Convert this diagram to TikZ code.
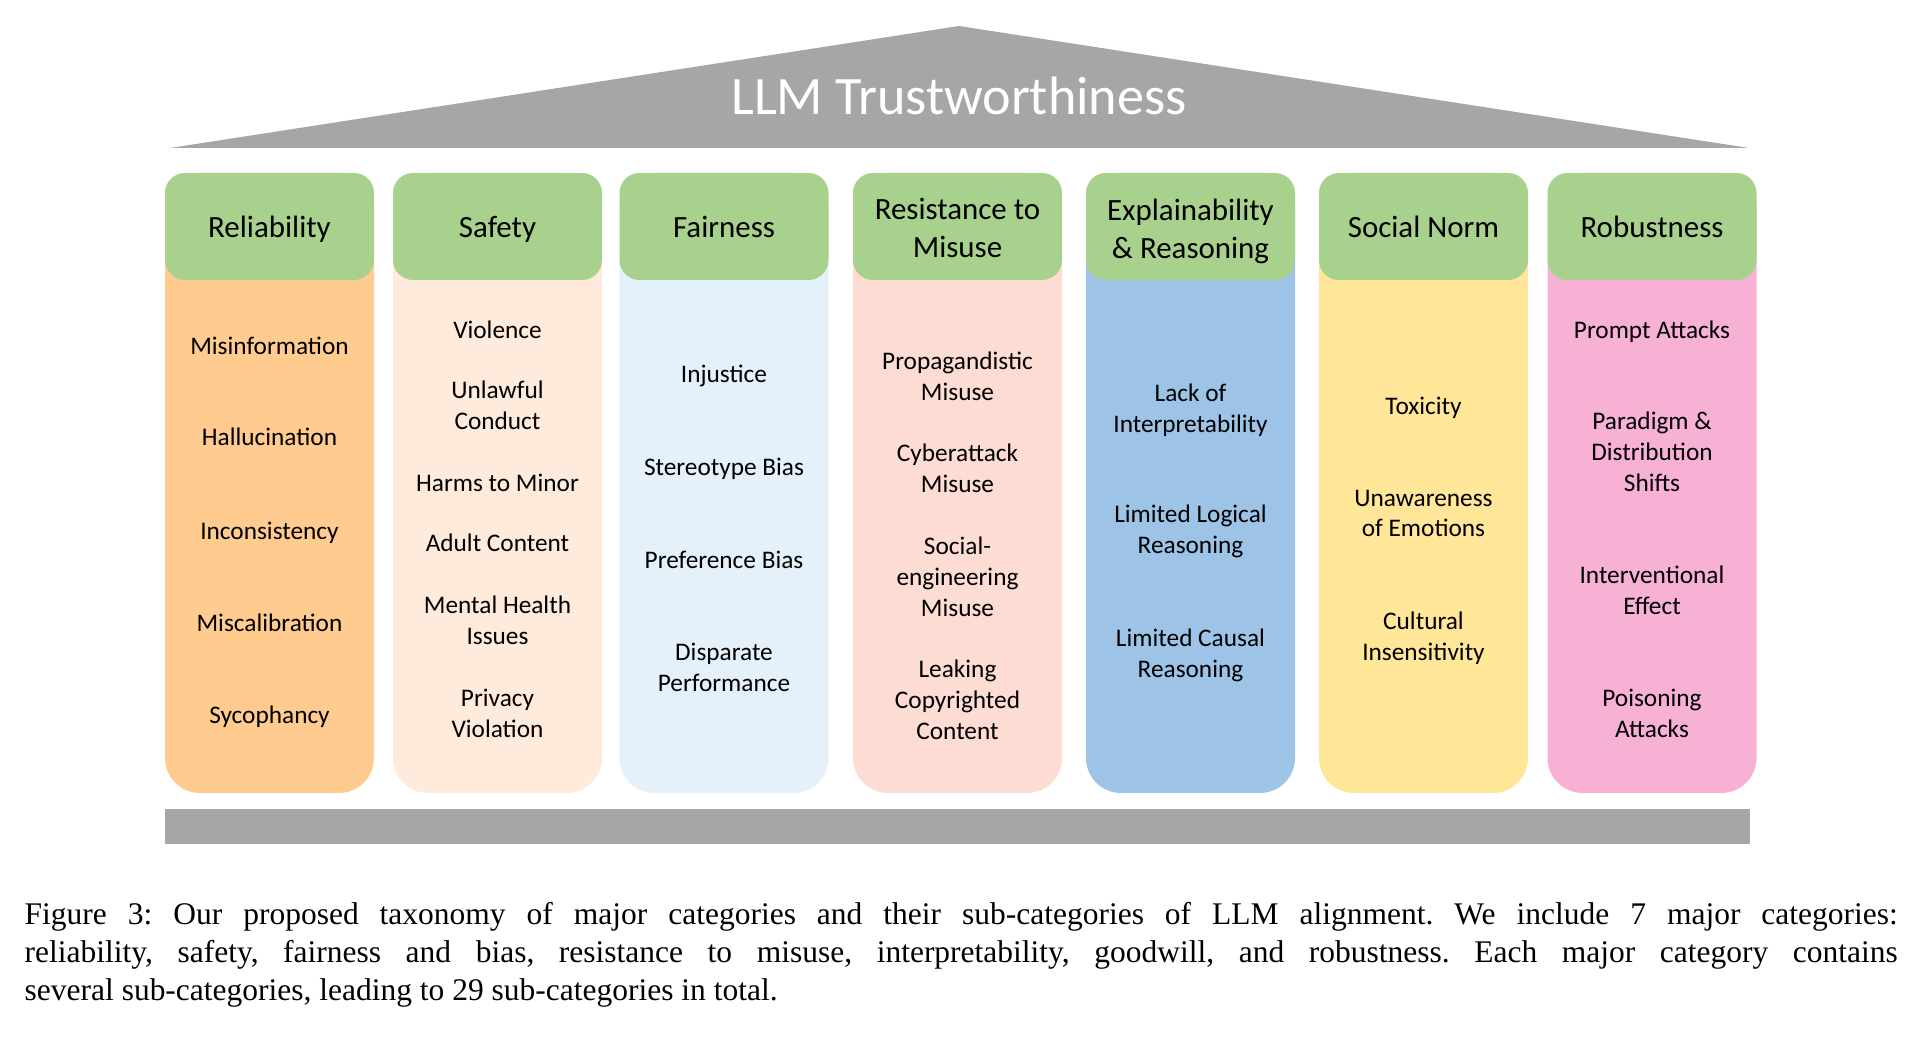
\documentclass[tikz,border=0pt]{standalone}
\usepackage{fontspec}
\setmainfont{Carlito}
\newfontfamily\legendefont{Liberation Serif}
\usepackage{xcolor}
\usepackage{tikz}
\usetikzlibrary{shapes}
\usetikzlibrary{positioning}
\definecolor{gris}{HTML}{A6A6A6}
\definecolor{vert}{HTML}{A9D18E}
\definecolor{orange}{HTML}{FFCB8E}
\definecolor{peche}{HTML}{FEEBDC}
\definecolor{ciel}{HTML}{E4F1FA}
\definecolor{rose}{HTML}{FDDCD3}
\definecolor{bleu}{HTML}{9DC3E6}
\definecolor{jaune}{HTML}{FFE699}
\definecolor{fuchsia}{HTML}{F7B1D4}
\tikzstyle{pilier}=[
        rectangle,
        rounded corners=3.5mm,
        minimum width=2.09cm,
        minimum height=6.2cm,
        inner sep=0pt
]
\tikzstyle{entete}=[
        rectangle,
        rounded corners=2mm,
        fill=vert,
        minimum width=2.09cm,
        minimum height=1.07cm,
        inner sep=0pt
]
\tikzstyle{titrecol}=[align=center,inner sep=0pt,execute at begin node=\strut,
execute at end node=\strut,font=\fontsize{8.8}{10.8}\selectfont]
\tikzstyle{critere}=[align=center,inner sep=0pt,execute at begin node=\strut,
execute at end node=\strut,font=\fontsize{7.2}{8.8}\selectfont]
\tikzstyle{toit}=[fill=gris]
\tikzstyle{socle}=[rectangle,fill=gris,minimum width=15.85cm,minimum height=0.35cm,inner sep=0pt]
\tikzstyle{legende}=[inner sep=0pt,text width=18.73cm,align=justify,
font=\legendefont\fontsize{8.96}{10.8}\selectfont\frenchspacing]

\begin{document}
\begin{tikzpicture}
\useasboundingbox (0,0) rectangle (19.30,-10.40);
\fill[toit] (1.70,-1.48) -- (9.59,-0.26) -- (17.49,-1.48) -- cycle;
\node[text=white,font=\fontsize{15.4}{18}\selectfont,anchor=base] (titre) at (9.59,-1.15) {LLM Trustworthiness};
%Piliers
\node[pilier,fill=orange] (p1) at (2.695,-4.83) {};
\node[pilier,fill=peche] (p2) at (4.975,-4.83) {};
\node[pilier,fill=ciel] (p3) at (7.24,-4.83) {};
\node[pilier,fill=rose] (p4) at (9.575,-4.83) {};
\node[pilier,fill=bleu] (p5) at (11.905,-4.83) {};
\node[pilier,fill=jaune] (p6) at (14.235,-4.83) {};
\node[pilier,fill=fuchsia] (p7) at (16.52,-4.83) {};
\node[entete] (e1) at (2.695,-2.265) {};
\node[entete] (e2) at (4.975,-2.265) {};
\node[entete] (e3) at (7.24,-2.265) {};
\node[entete] (e4) at (9.575,-2.265) {};
\node[entete] (e5) at (11.905,-2.265) {};
\node[entete] (e6) at (14.235,-2.265) {};
\node[entete] (e7) at (16.52,-2.265) {};
\node[titrecol] (t1) at (2.695,-2.30) {Reliability};
\node[titrecol] (t2) at (4.975,-2.30) {Safety};
\node[titrecol] (t3) at (7.24,-2.30) {Fairness};
\node[titrecol] (t4) at (9.575,-2.34) {Resistance to\\Misuse};
\node[titrecol] (t5) at (11.905,-2.34) {Explainability\\\& Reasoning};
\node[titrecol] (t6) at (14.235,-2.30) {Social Norm};
\node[titrecol] (t7) at (16.52,-2.30) {Robustness};
%Sous-categories
\node[critere] (r1) at (2.695,-3.485) {Misinformation};
\node[critere] (r2) at (2.695,-4.395) {Hallucination};
\node[critere] (r3) at (2.695,-5.335) {Inconsistency};
\node[critere] (r4) at (2.695,-6.255) {Miscalibration};
\node[critere] (r5) at (2.695,-7.175) {Sycophancy};
\node[critere] (s1) at (4.975,-3.325) {Violence};
\node[critere] (s2) at (4.975,-4.10) {Unlawful\\Conduct};
\node[critere] (s3) at (4.975,-4.855) {Harms to Minor};
\node[critere] (s4) at (4.975,-5.455) {Adult Content};
\node[critere] (s5) at (4.975,-6.25) {Mental Health\\Issues};
\node[critere] (s6) at (4.975,-7.18) {Privacy\\Violation};
\node[critere] (f1) at (7.24,-3.765) {Injustice};
\node[critere] (f2) at (7.24,-4.695) {Stereotype Bias};
\node[critere] (f3) at (7.24,-5.625) {Preference Bias};
\node[critere] (f4) at (7.24,-6.72) {Disparate\\Performance};
\node[critere] (m1) at (9.575,-3.81) {Propagandistic\\Misuse};
\node[critere] (m2) at (9.575,-4.73) {Cyberattack\\Misuse};
\node[critere] (m3) at (9.575,-5.81) {Social-\\engineering\\Misuse};
\node[critere] (m4) at (9.575,-7.04) {Leaking\\Copyrighted\\Content};
\node[critere] (x1) at (11.905,-4.13) {Lack of\\Interpretability};
\node[critere] (x2) at (11.905,-5.34) {Limited Logical\\Reasoning};
\node[critere] (x3) at (11.905,-6.58) {Limited Causal\\Reasoning};
\node[critere] (n1) at (14.235,-4.085) {Toxicity};
\node[critere] (n2) at (14.235,-5.18) {Unawareness\\of Emotions};
\node[critere] (n3) at (14.235,-6.41) {Cultural\\Insensitivity};
\node[critere] (b1) at (16.52,-3.325) {Prompt Attacks};
\node[critere] (b2) at (16.52,-4.56) {Paradigm \&\\Distribution\\Shifts};
\node[critere] (b3) at (16.52,-5.95) {Interventional\\Effect};
\node[critere] (b4) at (16.52,-7.18) {Poisoning\\Attacks};
\node[socle] (base) at (9.575,-8.265) {};
\node[legende,anchor=base west] (leg) at (0.24,-9.25) {Figure 3: Our proposed taxonomy of major categories and their sub-categories of LLM alignment. We include 7 major categories:\linebreak reliability, safety, fairness and bias, resistance to misuse, interpretability, goodwill, and robustness. Each major category contains\linebreak several sub-categories, leading to 29 sub-categories in total.};
\end{tikzpicture}
\end{document}
